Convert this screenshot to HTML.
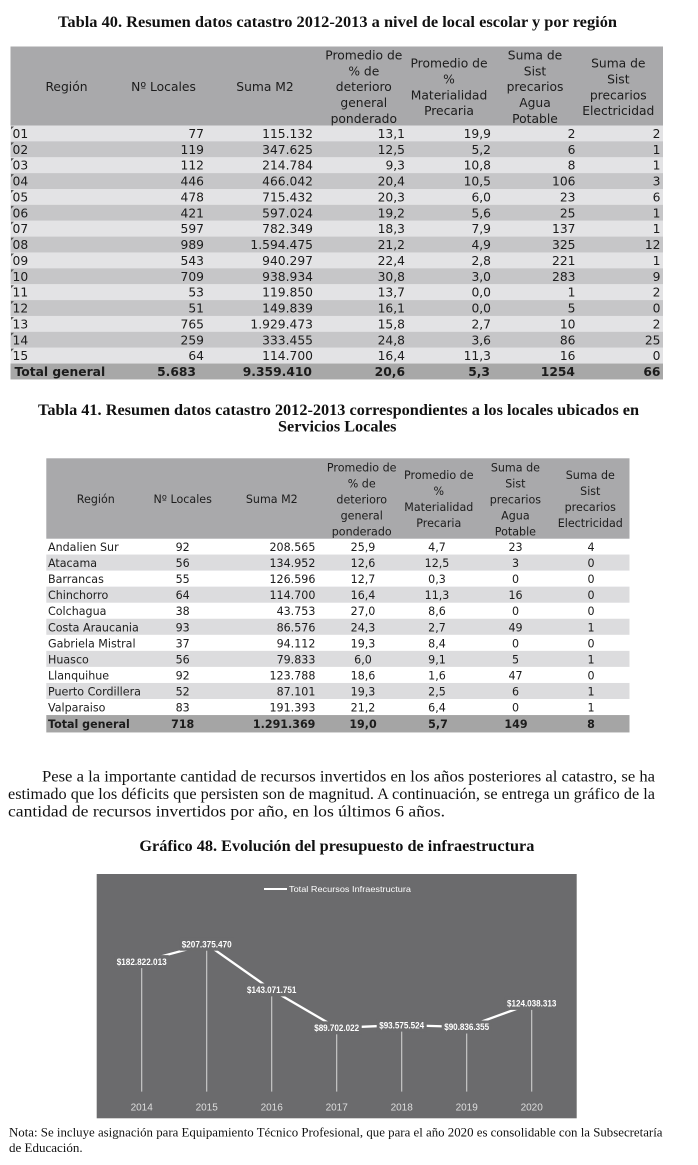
<!DOCTYPE html>
<html>
<head>
<meta charset="utf-8">
<style>
html,body{margin:0;padding:0;background:#fff;}
svg{display:block;}
.t1{font-family:"DejaVu Sans",Verdana,sans-serif;font-size:12.3px;fill:#1c1c1c;}
.t2{font-family:"DejaVu Sans",Verdana,sans-serif;font-size:11.1px;fill:#1c1c1c;}
.b{font-weight:bold;}
.e{text-anchor:end;}
.m{text-anchor:middle;}
.ser{font-family:"Liberation Serif","Times New Roman",serif;fill:#111;}
.ttl{font-family:"Liberation Serif","Times New Roman",serif;font-weight:bold;font-size:15.5px;fill:#111;}
.ch{font-family:"Liberation Sans",Arial,sans-serif;}
.lb{font-family:"Liberation Sans",Arial,sans-serif;font-weight:bold;font-size:9px;fill:#fff;text-anchor:middle;}
.yr{font-family:"Liberation Sans",Arial,sans-serif;font-size:10px;fill:#dedede;text-anchor:middle;}
</style>
</head>
<body>
<svg width="698" height="1165" viewBox="0 0 698 1165" xmlns="http://www.w3.org/2000/svg">
<rect width="698" height="1165" fill="#fff"/>

<!-- Title 40 -->
<text class="ttl" x="58" y="27" textLength="559" lengthAdjust="spacingAndGlyphs">Tabla 40. Resumen datos catastro 2012-2013 a nivel de local escolar y por región</text>

<!-- TABLE 1 -->
<rect x="10.5" y="46.5" width="652.5" height="79" fill="#a9a9ab"/>
<g class="t1">
<text class="m" x="66.5" y="91">Región</text>
<text class="m" x="163.5" y="91">Nº Locales</text>
<text class="m" x="265" y="91">Suma M2</text>
<text class="m" x="363.8" y="59.6">Promedio de</text>
<text class="m" x="363.8" y="75.4">% de</text>
<text class="m" x="363.8" y="91.2">deterioro</text>
<text class="m" x="363.8" y="107">general</text>
<text class="m" x="363.8" y="122.8">ponderado</text>
<text class="m" x="449" y="67.7">Promedio de</text>
<text class="m" x="449" y="83.5">%</text>
<text class="m" x="449" y="99.3">Materialidad</text>
<text class="m" x="449" y="115.1">Precaria</text>
<text class="m" x="535" y="59.6">Suma de</text>
<text class="m" x="535" y="75.4">Sist</text>
<text class="m" x="535" y="91.2">precarios</text>
<text class="m" x="535" y="107">Agua</text>
<text class="m" x="535" y="122.8">Potable</text>
<text class="m" x="618.3" y="67.7">Suma de</text>
<text class="m" x="618.3" y="83.5">Sist</text>
<text class="m" x="618.3" y="99.3">precarios</text>
<text class="m" x="618.3" y="115.1">Electricidad</text>
</g>

<g class="t1">
<g transform="translate(0,125.5)"><rect x="10.5" y="0" width="652.5" height="16" fill="#e3e3e5"/><path d="M11 1 L14 1 L11 4 Z" fill="#555"/>
<text x="12.5" y="12.5">01</text><text class="e" x="204" y="12.5">77</text><text class="e" x="313" y="12.5">115.132</text><text class="e" x="405" y="12.5">13,1</text><text class="e" x="491" y="12.5">19,9</text><text class="e" x="575.5" y="12.5">2</text><text class="e" x="660.5" y="12.5">2</text></g>
<g transform="translate(0,141.37)"><rect x="10.5" y="0" width="652.5" height="16" fill="#c6c6c8"/><path d="M11 1 L14 1 L11 4 Z" fill="#555"/>
<text x="12.5" y="12.5">02</text><text class="e" x="204" y="12.5">119</text><text class="e" x="313" y="12.5">347.625</text><text class="e" x="405" y="12.5">12,5</text><text class="e" x="491" y="12.5">5,2</text><text class="e" x="575.5" y="12.5">6</text><text class="e" x="660.5" y="12.5">1</text></g>
<g transform="translate(0,157.24)"><rect x="10.5" y="0" width="652.5" height="16" fill="#e3e3e5"/><path d="M11 1 L14 1 L11 4 Z" fill="#555"/>
<text x="12.5" y="12.5">03</text><text class="e" x="204" y="12.5">112</text><text class="e" x="313" y="12.5">214.784</text><text class="e" x="405" y="12.5">9,3</text><text class="e" x="491" y="12.5">10,8</text><text class="e" x="575.5" y="12.5">8</text><text class="e" x="660.5" y="12.5">1</text></g>
<g transform="translate(0,173.11)"><rect x="10.5" y="0" width="652.5" height="16" fill="#c6c6c8"/><path d="M11 1 L14 1 L11 4 Z" fill="#555"/>
<text x="12.5" y="12.5">04</text><text class="e" x="204" y="12.5">446</text><text class="e" x="313" y="12.5">466.042</text><text class="e" x="405" y="12.5">20,4</text><text class="e" x="491" y="12.5">10,5</text><text class="e" x="575.5" y="12.5">106</text><text class="e" x="660.5" y="12.5">3</text></g>
<g transform="translate(0,188.98)"><rect x="10.5" y="0" width="652.5" height="16" fill="#e3e3e5"/><path d="M11 1 L14 1 L11 4 Z" fill="#555"/>
<text x="12.5" y="12.5">05</text><text class="e" x="204" y="12.5">478</text><text class="e" x="313" y="12.5">715.432</text><text class="e" x="405" y="12.5">20,3</text><text class="e" x="491" y="12.5">6,0</text><text class="e" x="575.5" y="12.5">23</text><text class="e" x="660.5" y="12.5">6</text></g>
<g transform="translate(0,204.85)"><rect x="10.5" y="0" width="652.5" height="16" fill="#c6c6c8"/><path d="M11 1 L14 1 L11 4 Z" fill="#555"/>
<text x="12.5" y="12.5">06</text><text class="e" x="204" y="12.5">421</text><text class="e" x="313" y="12.5">597.024</text><text class="e" x="405" y="12.5">19,2</text><text class="e" x="491" y="12.5">5,6</text><text class="e" x="575.5" y="12.5">25</text><text class="e" x="660.5" y="12.5">1</text></g>
<g transform="translate(0,220.72)"><rect x="10.5" y="0" width="652.5" height="16" fill="#e3e3e5"/><path d="M11 1 L14 1 L11 4 Z" fill="#555"/>
<text x="12.5" y="12.5">07</text><text class="e" x="204" y="12.5">597</text><text class="e" x="313" y="12.5">782.349</text><text class="e" x="405" y="12.5">18,3</text><text class="e" x="491" y="12.5">7,9</text><text class="e" x="575.5" y="12.5">137</text><text class="e" x="660.5" y="12.5">1</text></g>
<g transform="translate(0,236.59)"><rect x="10.5" y="0" width="652.5" height="16" fill="#c6c6c8"/><path d="M11 1 L14 1 L11 4 Z" fill="#555"/>
<text x="12.5" y="12.5">08</text><text class="e" x="204" y="12.5">989</text><text class="e" x="313" y="12.5">1.594.475</text><text class="e" x="405" y="12.5">21,2</text><text class="e" x="491" y="12.5">4,9</text><text class="e" x="575.5" y="12.5">325</text><text class="e" x="660.5" y="12.5">12</text></g>
<g transform="translate(0,252.46)"><rect x="10.5" y="0" width="652.5" height="16" fill="#e3e3e5"/><path d="M11 1 L14 1 L11 4 Z" fill="#555"/>
<text x="12.5" y="12.5">09</text><text class="e" x="204" y="12.5">543</text><text class="e" x="313" y="12.5">940.297</text><text class="e" x="405" y="12.5">22,4</text><text class="e" x="491" y="12.5">2,8</text><text class="e" x="575.5" y="12.5">221</text><text class="e" x="660.5" y="12.5">1</text></g>
<g transform="translate(0,268.33)"><rect x="10.5" y="0" width="652.5" height="16" fill="#c6c6c8"/><path d="M11 1 L14 1 L11 4 Z" fill="#555"/>
<text x="12.5" y="12.5">10</text><text class="e" x="204" y="12.5">709</text><text class="e" x="313" y="12.5">938.934</text><text class="e" x="405" y="12.5">30,8</text><text class="e" x="491" y="12.5">3,0</text><text class="e" x="575.5" y="12.5">283</text><text class="e" x="660.5" y="12.5">9</text></g>
<g transform="translate(0,284.2)"><rect x="10.5" y="0" width="652.5" height="16" fill="#e3e3e5"/><path d="M11 1 L14 1 L11 4 Z" fill="#555"/>
<text x="12.5" y="12.5">11</text><text class="e" x="204" y="12.5">53</text><text class="e" x="313" y="12.5">119.850</text><text class="e" x="405" y="12.5">13,7</text><text class="e" x="491" y="12.5">0,0</text><text class="e" x="575.5" y="12.5">1</text><text class="e" x="660.5" y="12.5">2</text></g>
<g transform="translate(0,300.07)"><rect x="10.5" y="0" width="652.5" height="16" fill="#c6c6c8"/><path d="M11 1 L14 1 L11 4 Z" fill="#555"/>
<text x="12.5" y="12.5">12</text><text class="e" x="204" y="12.5">51</text><text class="e" x="313" y="12.5">149.839</text><text class="e" x="405" y="12.5">16,1</text><text class="e" x="491" y="12.5">0,0</text><text class="e" x="575.5" y="12.5">5</text><text class="e" x="660.5" y="12.5">0</text></g>
<g transform="translate(0,315.94)"><rect x="10.5" y="0" width="652.5" height="16" fill="#e3e3e5"/><path d="M11 1 L14 1 L11 4 Z" fill="#555"/>
<text x="12.5" y="12.5">13</text><text class="e" x="204" y="12.5">765</text><text class="e" x="313" y="12.5">1.929.473</text><text class="e" x="405" y="12.5">15,8</text><text class="e" x="491" y="12.5">2,7</text><text class="e" x="575.5" y="12.5">10</text><text class="e" x="660.5" y="12.5">2</text></g>
<g transform="translate(0,331.81)"><rect x="10.5" y="0" width="652.5" height="16" fill="#c6c6c8"/><path d="M11 1 L14 1 L11 4 Z" fill="#555"/>
<text x="12.5" y="12.5">14</text><text class="e" x="204" y="12.5">259</text><text class="e" x="313" y="12.5">333.455</text><text class="e" x="405" y="12.5">24,8</text><text class="e" x="491" y="12.5">3,6</text><text class="e" x="575.5" y="12.5">86</text><text class="e" x="660.5" y="12.5">25</text></g>
<g transform="translate(0,347.68)"><rect x="10.5" y="0" width="652.5" height="16" fill="#e3e3e5"/><path d="M11 1 L14 1 L11 4 Z" fill="#555"/>
<text x="12.5" y="12.5">15</text><text class="e" x="204" y="12.5">64</text><text class="e" x="313" y="12.5">114.700</text><text class="e" x="405" y="12.5">16,4</text><text class="e" x="491" y="12.5">11,3</text><text class="e" x="575.5" y="12.5">16</text><text class="e" x="660.5" y="12.5">0</text></g>
<g transform="translate(0,363.55)" class="b"><rect x="10.5" y="0" width="652.5" height="15.9" fill="#a8a8a8"/>
<text x="14.5" y="12.5">Total general</text><text class="e" x="196" y="12.5">5.683</text><text class="e" x="312" y="12.5">9.359.410</text><text class="e" x="405" y="12.5">20,6</text><text class="e" x="490" y="12.5">5,3</text><text class="e" x="575" y="12.5">1254</text><text class="e" x="660.5" y="12.5">66</text></g>
</g>

<!-- Title 41 -->
<text class="ttl" x="38" y="415" textLength="601" lengthAdjust="spacingAndGlyphs">Tabla 41. Resumen datos catastro 2012-2013 correspondientes a los locales ubicados en</text>
<text class="ttl" x="278" y="431.7" textLength="118.5" lengthAdjust="spacingAndGlyphs">Servicios Locales</text>

<!-- TABLE 2 -->
<rect x="46.3" y="458.3" width="583.2" height="80.4" fill="#a9a9ab"/>
<g class="t2">
<text class="m" x="95.8" y="503">Región</text>
<text class="m" x="182.7" y="503">Nº Locales</text>
<text class="m" x="271.8" y="503">Suma M2</text>
<text class="m" x="361.7" y="471.7">Promedio de</text>
<text class="m" x="361.7" y="487.7">% de</text>
<text class="m" x="361.7" y="503.7">deterioro</text>
<text class="m" x="361.7" y="519.7">general</text>
<text class="m" x="361.7" y="535.7">ponderado</text>
<text class="m" x="438.8" y="479.2">Promedio de</text>
<text class="m" x="438.8" y="495.2">%</text>
<text class="m" x="438.8" y="511">Materialidad</text>
<text class="m" x="438.8" y="527.2">Precaria</text>
<text class="m" x="515.4" y="471.7">Suma de</text>
<text class="m" x="515.4" y="487.7">Sist</text>
<text class="m" x="515.4" y="503.7">precarios</text>
<text class="m" x="515.4" y="519.7">Agua</text>
<text class="m" x="515.4" y="535.7">Potable</text>
<text class="m" x="590.3" y="479.2">Suma de</text>
<text class="m" x="590.3" y="495.2">Sist</text>
<text class="m" x="590.3" y="511">precarios</text>
<text class="m" x="590.3" y="527.2">Electricidad</text>
</g>

<g class="t2">
<g transform="translate(0,538.5)">
<text x="48" y="12.5">Andalien Sur</text><text class="m" x="182.7" y="12.5">92</text><text class="e" x="315.4" y="12.5">208.565</text><text class="m" x="363" y="12.5">25,9</text><text class="m" x="437" y="12.5">4,7</text><text class="m" x="515.5" y="12.5">23</text><text class="m" x="591" y="12.5">4</text></g>
<g transform="translate(0,554.55)"><rect x="46.3" y="0" width="583.2" height="16.05" fill="#dcdcde"/>
<text x="48" y="12.5">Atacama</text><text class="m" x="182.7" y="12.5">56</text><text class="e" x="315.4" y="12.5">134.952</text><text class="m" x="363" y="12.5">12,6</text><text class="m" x="437" y="12.5">12,5</text><text class="m" x="515.5" y="12.5">3</text><text class="m" x="591" y="12.5">0</text></g>
<g transform="translate(0,570.6)">
<text x="48" y="12.5">Barrancas</text><text class="m" x="182.7" y="12.5">55</text><text class="e" x="315.4" y="12.5">126.596</text><text class="m" x="363" y="12.5">12,7</text><text class="m" x="437" y="12.5">0,3</text><text class="m" x="515.5" y="12.5">0</text><text class="m" x="591" y="12.5">0</text></g>
<g transform="translate(0,586.65)"><rect x="46.3" y="0" width="583.2" height="16.05" fill="#dcdcde"/>
<text x="48" y="12.5">Chinchorro</text><text class="m" x="182.7" y="12.5">64</text><text class="e" x="315.4" y="12.5">114.700</text><text class="m" x="363" y="12.5">16,4</text><text class="m" x="437" y="12.5">11,3</text><text class="m" x="515.5" y="12.5">16</text><text class="m" x="591" y="12.5">0</text></g>
<g transform="translate(0,602.7)">
<text x="48" y="12.5">Colchagua</text><text class="m" x="182.7" y="12.5">38</text><text class="e" x="315.4" y="12.5">43.753</text><text class="m" x="363" y="12.5">27,0</text><text class="m" x="437" y="12.5">8,6</text><text class="m" x="515.5" y="12.5">0</text><text class="m" x="591" y="12.5">0</text></g>
<g transform="translate(0,618.75)"><rect x="46.3" y="0" width="583.2" height="16.05" fill="#dcdcde"/>
<text x="48" y="12.5">Costa Araucania</text><text class="m" x="182.7" y="12.5">93</text><text class="e" x="315.4" y="12.5">86.576</text><text class="m" x="363" y="12.5">24,3</text><text class="m" x="437" y="12.5">2,7</text><text class="m" x="515.5" y="12.5">49</text><text class="m" x="591" y="12.5">1</text></g>
<g transform="translate(0,634.8)">
<text x="48" y="12.5">Gabriela Mistral</text><text class="m" x="182.7" y="12.5">37</text><text class="e" x="315.4" y="12.5">94.112</text><text class="m" x="363" y="12.5">19,3</text><text class="m" x="437" y="12.5">8,4</text><text class="m" x="515.5" y="12.5">0</text><text class="m" x="591" y="12.5">0</text></g>
<g transform="translate(0,650.85)"><rect x="46.3" y="0" width="583.2" height="16.05" fill="#dcdcde"/>
<text x="48" y="12.5">Huasco</text><text class="m" x="182.7" y="12.5">56</text><text class="e" x="315.4" y="12.5">79.833</text><text class="m" x="363" y="12.5">6,0</text><text class="m" x="437" y="12.5">9,1</text><text class="m" x="515.5" y="12.5">5</text><text class="m" x="591" y="12.5">1</text></g>
<g transform="translate(0,666.9)">
<text x="48" y="12.5">Llanquihue</text><text class="m" x="182.7" y="12.5">92</text><text class="e" x="315.4" y="12.5">123.788</text><text class="m" x="363" y="12.5">18,6</text><text class="m" x="437" y="12.5">1,6</text><text class="m" x="515.5" y="12.5">47</text><text class="m" x="591" y="12.5">0</text></g>
<g transform="translate(0,682.95)"><rect x="46.3" y="0" width="583.2" height="16.05" fill="#dcdcde"/>
<text x="48" y="12.5">Puerto Cordillera</text><text class="m" x="182.7" y="12.5">52</text><text class="e" x="315.4" y="12.5">87.101</text><text class="m" x="363" y="12.5">19,3</text><text class="m" x="437" y="12.5">2,5</text><text class="m" x="515.5" y="12.5">6</text><text class="m" x="591" y="12.5">1</text></g>
<g transform="translate(0,699)">
<text x="48" y="12.5">Valparaiso</text><text class="m" x="182.7" y="12.5">83</text><text class="e" x="315.4" y="12.5">191.393</text><text class="m" x="363" y="12.5">21,2</text><text class="m" x="437" y="12.5">6,4</text><text class="m" x="515.5" y="12.5">0</text><text class="m" x="591" y="12.5">1</text></g>
<g transform="translate(0,715.05)" class="b"><rect x="46.3" y="0" width="583.2" height="17.4" fill="#a5a5a5"/>
<text x="48" y="12.8">Total general</text><text class="m" x="182.7" y="12.8">718</text><text class="e" x="315.4" y="12.8">1.291.369</text><text class="m" x="363" y="12.8">19,0</text><text class="m" x="438" y="12.8">5,7</text><text class="m" x="516" y="12.8">149</text><text class="m" x="591" y="12.8">8</text></g>
</g>

<!-- Paragraph -->
<g class="ser" font-size="16">
<text x="42" y="781.5" textLength="613" lengthAdjust="spacingAndGlyphs">Pese a la importante cantidad de recursos invertidos en los años posteriores al catastro, se ha</text>
<text x="8" y="799" textLength="647" lengthAdjust="spacingAndGlyphs">estimado que los déficits que persisten son de magnitud. A continuación, se entrega un gráfico de la</text>
<text x="8" y="816.5" textLength="437" lengthAdjust="spacingAndGlyphs">cantidad de recursos invertidos por año, en los últimos 6 años.</text>
</g>

<!-- Chart title -->
<text class="ttl" x="139.4" y="851" textLength="395" lengthAdjust="spacingAndGlyphs">Gráfico 48. Evolución del presupuesto de infraestructura</text>

<!-- CHART -->
<rect x="96.7" y="874" width="480" height="244.3" fill="#6b6b6d"/>
<line x1="264" y1="889" x2="287" y2="889" stroke="#fff" stroke-width="2"/>
<text class="ch" x="289" y="892" font-size="8.5" fill="#fff" textLength="122" lengthAdjust="spacingAndGlyphs">Total Recursos Infraestructura</text>

<g stroke="#cfcfcf" stroke-width="1.1">
<line x1="141.7" y1="961.6" x2="141.7" y2="1091.6"/>
<line x1="206.7" y1="944.2" x2="206.7" y2="1091.6"/>
<line x1="271.7" y1="989.9" x2="271.7" y2="1091.6"/>
<line x1="336.7" y1="1027.8" x2="336.7" y2="1091.6"/>
<line x1="401.7" y1="1025.1" x2="401.7" y2="1091.6"/>
<line x1="466.7" y1="1027" x2="466.7" y2="1091.6"/>
<line x1="531.7" y1="1003.4" x2="531.7" y2="1091.6"/>
</g>
<polyline points="141.7,961.6 206.7,944.2 271.7,989.9 336.7,1027.8 401.7,1025.1 466.7,1027 531.7,1003.4" fill="none" stroke="#fff" stroke-width="2.3" stroke-linejoin="round"/>

<g fill="#6b6b6d">
<rect x="114.7" y="955.1" width="54" height="13"/>
<rect x="179.7" y="937.7" width="54" height="13"/>
<rect x="244.7" y="983.4" width="54" height="13"/>
<rect x="311.7" y="1021.3" width="50" height="13"/>
<rect x="376.7" y="1018.6" width="50" height="13"/>
<rect x="441.7" y="1020.5" width="50" height="13"/>
<rect x="504.7" y="996.9" width="54" height="13"/>
</g>
<text class="lb" x="141.7" y="964.8" textLength="50" lengthAdjust="spacingAndGlyphs">$182.822.013</text>
<text class="lb" x="206.7" y="947.4" textLength="50" lengthAdjust="spacingAndGlyphs">$207.375.470</text>
<text class="lb" x="271.7" y="993.1" textLength="49.5" lengthAdjust="spacingAndGlyphs">$143.071.751</text>
<text class="lb" x="336.7" y="1031" textLength="45" lengthAdjust="spacingAndGlyphs">$89.702.022</text>
<text class="lb" x="401.7" y="1028.3" textLength="45" lengthAdjust="spacingAndGlyphs">$93.575.524</text>
<text class="lb" x="466.7" y="1030.2" textLength="45" lengthAdjust="spacingAndGlyphs">$90.836.355</text>
<text class="lb" x="531.7" y="1006.6" textLength="49.5" lengthAdjust="spacingAndGlyphs">$124.038.313</text>

<text class="yr" x="141.7" y="1110.3">2014</text>
<text class="yr" x="206.7" y="1110.3">2015</text>
<text class="yr" x="271.7" y="1110.3">2016</text>
<text class="yr" x="336.7" y="1110.3">2017</text>
<text class="yr" x="401.7" y="1110.3">2018</text>
<text class="yr" x="466.7" y="1110.3">2019</text>
<text class="yr" x="531.7" y="1110.3">2020</text>

<!-- Footnote -->
<g class="ser" font-size="13">
<text x="9" y="1136.5" textLength="653.5" lengthAdjust="spacingAndGlyphs">Nota: Se incluye asignación para Equipamiento Técnico Profesional, que para el año 2020 es consolidable con la Subsecretaría</text>
<text x="9" y="1152">de Educación.</text>
</g>
</svg>
</body>
</html>
